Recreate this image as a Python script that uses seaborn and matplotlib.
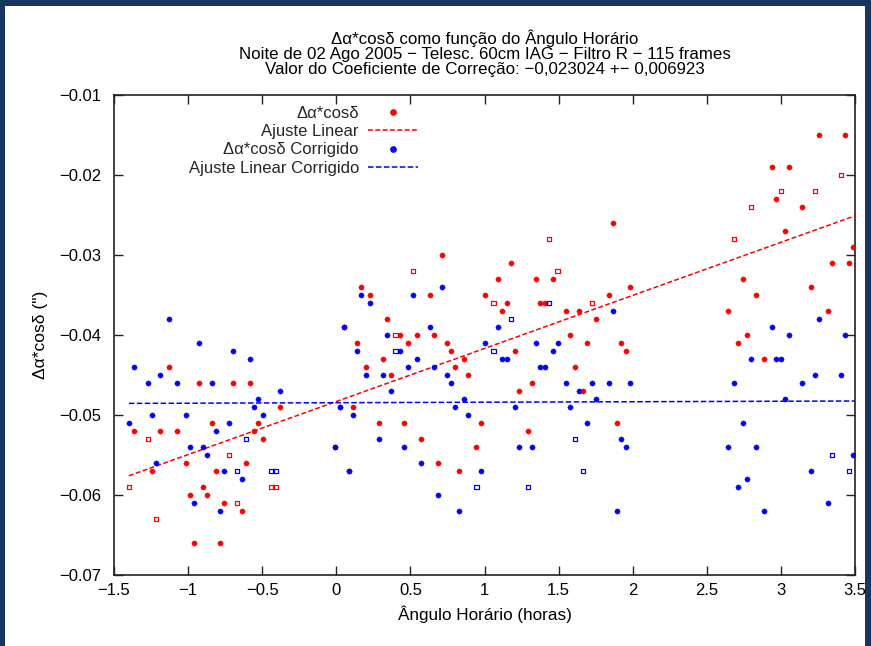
import numpy as np
import pandas as pd
import matplotlib
matplotlib.use("Agg")
import matplotlib.pyplot as plt
from matplotlib.lines import Line2D
from matplotlib.patches import Rectangle
import seaborn as sns

# ---------------- data ----------------
hour_angle = [
    -1.396, -1.365, -1.272, -1.243, -1.214, -1.187, -1.128, -1.072, -1.014, -0.984,
    -0.957, -0.928, -0.899, -0.870, -0.842, -0.811, -0.784, -0.755, -0.725, -0.698,
    -0.669, -0.637, -0.608, -0.581, -0.552, -0.525, -0.495, -0.437, -0.410, -0.383,
    -0.009, 0.027, 0.054, 0.086, 0.110, 0.140, 0.169, 0.198, 0.228, 0.286,
    0.313, 0.342, 0.372, 0.399, 0.428, 0.457, 0.486, 0.516, 0.543, 0.572,
    0.631, 0.660, 0.684, 0.716, 0.745, 0.773, 0.802, 0.831, 0.861, 0.887,
    0.946, 0.975, 1.003, 1.061, 1.090, 1.120, 1.149, 1.178, 1.205, 1.234,
    1.293, 1.318,
    1.347, 1.376, 1.405, 1.434, 1.461, 1.493, 1.549, 1.579, 1.608, 1.637,
    1.664, 1.694, 1.723, 1.752, 1.838, 1.865, 1.894, 1.924, 1.953, 1.982,
    2.645, 2.682, 2.712, 2.741, 2.768, 2.799, 2.829, 2.883, 2.939, 2.968,
    2.998, 3.027, 3.056, 3.142, 3.200, 3.230, 3.259, 3.316, 3.347, 3.403,
    3.430, 3.462, 3.488,
]
dacos = [
    -0.059, -0.052, -0.053, -0.057, -0.063, -0.052, -0.044, -0.052, -0.056, -0.060,
    -0.066, -0.046, -0.059, -0.060, -0.051, -0.057, -0.066, -0.061, -0.055, -0.046,
    -0.061, -0.062, -0.056, -0.046, -0.052, -0.051, -0.053, -0.059, -0.059, -0.049,
    -0.054, -0.049, -0.039, -0.057, -0.049, -0.041, -0.034, -0.044, -0.035, -0.051,
    -0.043, -0.038, -0.045, -0.040, -0.040, -0.051, -0.041, -0.032, -0.040, -0.053,
    -0.035, -0.040, -0.056, -0.030, -0.041, -0.042, -0.044, -0.057, -0.043, -0.045,
    -0.054, -0.051, -0.035, -0.036, -0.033, -0.037, -0.036, -0.031, -0.042, -0.047,
    -0.052, -0.046,
    -0.033, -0.036, -0.036, -0.028, -0.033, -0.032, -0.037, -0.040, -0.044, -0.037,
    -0.047, -0.041, -0.036, -0.038, -0.035, -0.026, -0.051, -0.041, -0.042, -0.034,
    -0.037, -0.028, -0.041, -0.033, -0.040, -0.024, -0.035, -0.043, -0.019, -0.023,
    -0.022, -0.027, -0.019, -0.024, -0.034, -0.022, -0.015, -0.037, -0.031, -0.020,
    -0.015, -0.031, -0.029,
]
dacos_corr = [
    -0.051, -0.044, -0.046, -0.050, -0.056, -0.045, -0.038, -0.046, -0.050, -0.054,
    -0.061, -0.041, -0.054, -0.055, -0.046, -0.052, -0.062, -0.057, -0.051, -0.042,
    -0.057, -0.058, -0.053, -0.043, -0.049, -0.048, -0.050, -0.057, -0.057, -0.047,
    -0.054, -0.049, -0.039, -0.057, -0.050, -0.042, -0.035, -0.045, -0.036, -0.053,
    -0.045, -0.040, -0.047, -0.042, -0.042, -0.054, -0.044, -0.035, -0.043, -0.056,
    -0.039, -0.044, -0.060, -0.034, -0.045, -0.046, -0.049, -0.062, -0.048, -0.050,
    -0.059, -0.057, -0.041, -0.042, -0.039, -0.043, -0.043, -0.038, -0.049, -0.054,
    -0.059, -0.054,
    -0.041, -0.044, -0.044, -0.036, -0.042, -0.041, -0.046, -0.049, -0.053, -0.047,
    -0.057, -0.051, -0.046, -0.048, -0.046, -0.037, -0.062, -0.053, -0.054, -0.046,
    -0.054, -0.046, -0.059, -0.051, -0.058, -0.043, -0.054, -0.062, -0.039, -0.043,
    -0.043, -0.048, -0.040, -0.046, -0.057, -0.045, -0.038, -0.061, -0.055, -0.045,
    -0.040, -0.057, -0.055,
]
# frames drawn with an open square symbol in the reference
square_red = [-1.396, -1.272, -1.214, -0.725, -0.669, -0.437, -0.410, 0.399, 0.516,
              1.061, 1.434, 1.493, 1.723, 2.682, 2.799, 2.998, 3.230, 3.403]
square_blue = [-0.669, -0.608, -0.437, -0.410, 0.399, 0.946, 1.061, 1.178, 1.293,
               1.434, 1.608, 1.664, 3.347, 3.462]

fit_x = [-1.4, 3.5]
fit_red = [-0.0576, -0.0251]
fit_blue = [-0.04855, -0.04825]

x_ticks = [-1.5, -1, -0.5, 0, 0.5, 1, 1.5, 2, 2.5, 3, 3.5]
x_labels = ["\u22121.5", "\u22121", "\u22120.5", "0", "0.5", "1", "1.5", "2", "2.5", "3", "3.5"]
y_ticks = [-0.07, -0.06, -0.05, -0.04, -0.03, -0.02, -0.01]
y_labels = ["\u22120.07", "\u22120.06", "\u22120.05", "\u22120.04", "\u22120.03", "\u22120.02", "\u22120.01"]

title_lines = [
    "\u0394\u03b1*cos\u03b4 como função do Ângulo Horário",
    "Noite de 02 Ago 2005 \u2212 Telesc. 60cm IAG \u2212 Filtro R \u2212 115 frames",
    "Valor do Coeficiente de Correção: \u22120,023024 +\u2212 0,006923",
]
legend_labels = ["\u0394\u03b1*cos\u03b4", "Ajuste Linear",
                 "\u0394\u03b1*cos\u03b4 Corrigido", "Ajuste Linear Corrigido"]
xlabel = "Ângulo Horário (horas)"
ylabel = "\u0394\u03b1*cos\u03b4 (\")"

# ---------------- styling ----------------
sns.set_style("ticks")
fam = ["Liberation Sans", "DejaVu Sans"]
plt.rcParams["font.family"] = fam

RED = "#ff0000"
BLUE = "#0000ff"
NAVY = "#17375e"

df = pd.DataFrame({"x": hour_angle, "red": dacos, "blue": dacos_corr})
df["red_sq"] = df["x"].isin(square_red)
df["blue_sq"] = df["x"].isin(square_blue)
fits = pd.DataFrame({"x": fit_x, "red": fit_red, "blue": fit_blue})

fig = plt.figure(figsize=(8.71, 6.46), dpi=100, facecolor=NAVY)
fig.patches.append(Rectangle((5 / 871, 0), (865 - 5) / 871, 1 - 6 / 646,
                             transform=fig.transFigure, facecolor="white",
                             edgecolor="none", zorder=-10))
ax = fig.add_axes([114 / 871, 1 - 575 / 646, (855 - 114) / 871, (575 - 95) / 646])
ax.set_facecolor("white")

# red series then fit
sns.scatterplot(data=df[~df["red_sq"]], x="x", y="red", ax=ax, color=RED, marker="o",
                s=14, edgecolor=RED, linewidth=0.3, legend=False, zorder=3)
sns.scatterplot(data=df[df["red_sq"]], x="x", y="red", ax=ax, marker="s",
                s=9, facecolor="none", edgecolor=RED, linewidth=0.9, legend=False, zorder=3)
sns.lineplot(data=fits, x="x", y="red", ax=ax, color=RED, linewidth=1.1,
             dashes=False, zorder=4)
ax.lines[-1].set_dashes((3.2, 1.6))
# blue series then fit
sns.scatterplot(data=df[~df["blue_sq"]], x="x", y="blue", ax=ax, color=BLUE, marker="o",
                s=14, edgecolor=BLUE, linewidth=0.3, legend=False, zorder=5)
sns.scatterplot(data=df[df["blue_sq"]], x="x", y="blue", ax=ax, marker="s",
                s=9, facecolor="none", edgecolor=BLUE, linewidth=0.9, legend=False, zorder=5)
sns.lineplot(data=fits, x="x", y="blue", ax=ax, color=BLUE, linewidth=1.1,
             dashes=False, zorder=6)
ax.lines[-1].set_dashes((3.6, 1.6))

ax.set_xlim(-1.5, 3.5)
ax.set_ylim(-0.07, -0.01)
ax.set_xticks(x_ticks)
ax.set_xticklabels(x_labels)
ax.set_yticks(y_ticks)
ax.set_yticklabels(y_labels)
ax.tick_params(direction="in", length=6.5, width=1.0, color="#222222",
               top=True, right=True, labelsize=12, labelcolor="black")
ax.tick_params(axis="y", pad=9)
ax.tick_params(axis="x", pad=6)
for sp in ax.spines.values():
    sp.set_visible(True)
    sp.set_color("#222222")
    sp.set_linewidth(1.2)

ax.set_xlabel(xlabel, fontsize=12.3, labelpad=5, color="black")
ax.set_ylabel(ylabel, fontsize=12.5, labelpad=8, color="black")
ax.set_title("\n".join(title_lines), fontsize=12.2, linespacing=1.02, pad=15, color="black")

handles = [
    Line2D([], [], linestyle="none", marker="o", color=RED, markersize=3.8),
    Line2D([], [], color=RED, linewidth=1.1, dashes=(3.2, 1.6)),
    Line2D([], [], linestyle="none", marker="o", color=BLUE, markersize=3.8),
    Line2D([], [], color=BLUE, linewidth=1.1, dashes=(3.6, 1.6)),
]
leg = ax.legend(handles, legend_labels, loc="upper right", bbox_to_anchor=(0.425, 1.0),
                frameon=False, markerfirst=False, numpoints=1, handlelength=3.0,
                handletextpad=0.55, labelspacing=0.2, borderaxespad=0.25,
                prop={"family": fam, "size": 12})

fig.savefig("out.png", dpi=100, facecolor=NAVY)
